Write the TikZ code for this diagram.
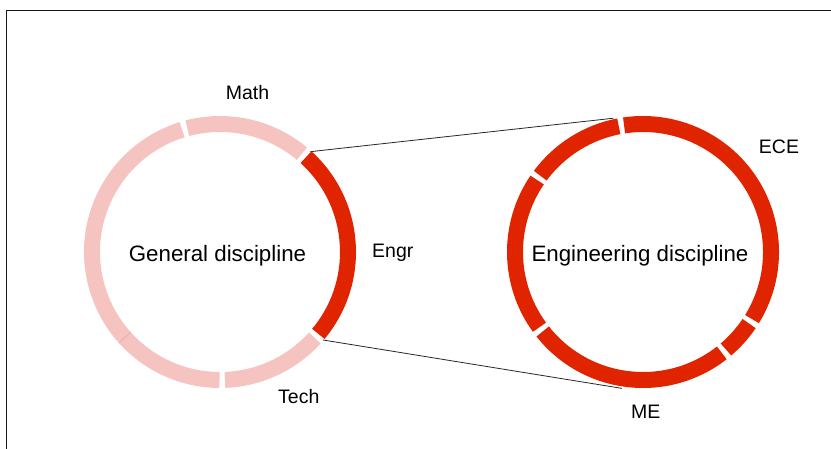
\documentclass[tikz,border=0pt]{standalone}
\usepackage{fontspec}
\setmainfont{Liberation Sans}
\usetikzlibrary{calc}
\definecolor{engred}{RGB}{224,36,0}
\definecolor{softpink}{RGB}{245,196,192}
\definecolor{seampink}{RGB}{228,170,166}
\begin{document}
\begin{tikzpicture}[x=1pt,y=1pt,
  ring/.style={line width=16pt},
  lbl/.style={font=\fontsize{19.5}{23}\selectfont, anchor=base, inner sep=0pt},
  ttl/.style={font=\fontsize{22.3}{26}\selectfont, anchor=base, inner sep=0pt},
  link/.style={line width=0.8pt, black!85}]
\useasboundingbox (0,0) rectangle (831,449);
\draw[line width=1pt, black!90] (6.5,0) -- (6.5,438) -- (831,438);
\coordinate (L) at (220,197);
\coordinate (R) at (643,197);
% connector end points
\coordinate (lu) at ($(L)+(48:135)$);
\coordinate (ll) at ($(L)+(-40.5:135.5)$);
\coordinate (ru) at ($(R)+(102.5:137)$);
\coordinate (rl) at ($(R)+(-98.8:138)$);
\draw[link] (lu) -- (ru);
\draw[link] (ll) -- (rl);
% left ring
\foreach \a/\b/\c in {49/106/softpink, 106/271/softpink, 271/319/softpink, 319/409/engred}
  \draw[ring, \c] ($(L)+(\a+1.2:128)$) arc[start angle=\a+1.2, end angle=\b-1.2, radius=128];
\draw[line width=0.6pt, seampink] ($(L)+(222:120)$) -- ($(L)+(222:136)$);
% right ring
\foreach \a/\b in {-32.8/99.7, 99.7/144.6, 144.6/217.2, 217.2/309.2, 309.2/327.2}
  \draw[ring, engred] ($(R)+(\a+1.2:128)$) arc[start angle=\a+1.2, end angle=\b-1.2, radius=128];
% labels
\node[ttl] (gen) at (217.5,187.3) {General discipline};
\node[ttl] (eng) at (640,187.3) {Engineering discipline};
\node[lbl] (math) at (247.5,349) {Math};
\node[lbl] (engr) at (392.8,191.7) {Engr};
\node[lbl] (tech) at (298.8,45) {Tech};
\node[lbl] (ece) at (779,295) {ECE};
\node[lbl] (me) at (645.8,30.7) {ME};
\end{tikzpicture}
\end{document}
